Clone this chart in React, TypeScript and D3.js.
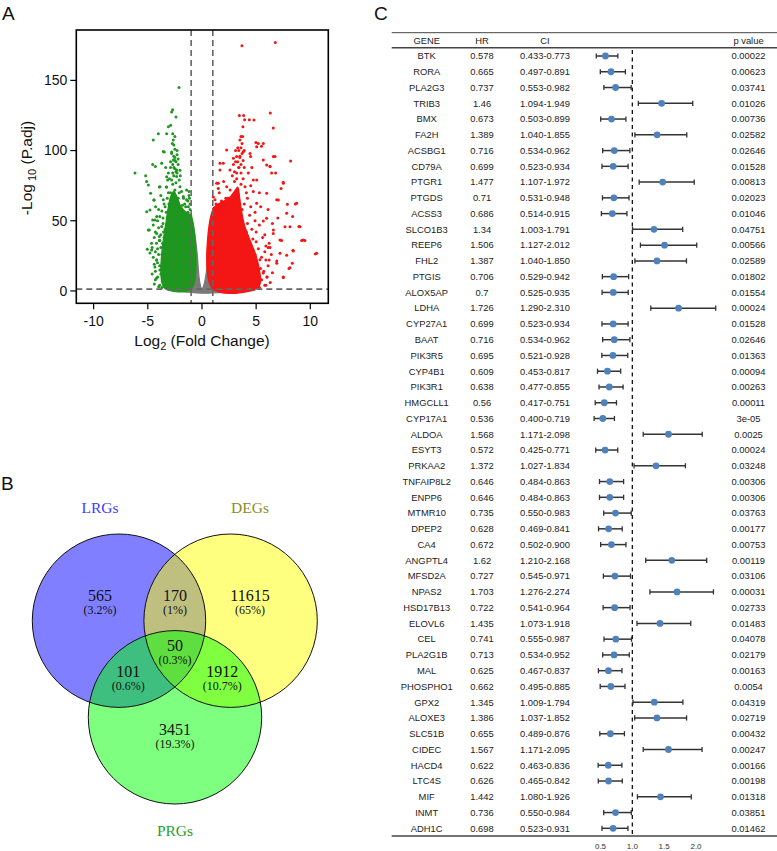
import React from 'react';
import * as d3 from 'd3';

// ---------------- Panel A: volcano plot data ----------------
const volcanoXTicks = [-10, -5, 0, 5, 10];
const volcanoYTicks = [0, 50, 100, 150];
const fcCutoff = 1;
const pCutoff = 1.3;

// dense gray (not significant) envelope [log2FC, -log10 padj]
const grayEnvelope: [number, number][] = [
  [-2.7, 0.3], [-2.0, 1.3], [-1.0, 1.6], [-1.0, 52], [-0.9, 50], [-0.7, 43], [-0.45, 27],
  [-0.2, 6], [0, 1.5], [0.2, 5], [0.45, 16], [0.75, 32], [0.9, 42], [1.0, 48], [1.0, 1.5],
  [2.5, 1.3], [4.4, 1.1], [4.9, 0.3], [3.0, -0.6], [0, -1.6], [-1.6, -0.6],
];
// dense green (down-regulated) core
const greenCore: [number, number][] = [
  [-1.0, 1.5], [-3.4, 1.5], [-3.7, 6], [-3.8, 15], [-3.7, 28], [-3.5, 40], [-3.3, 50],
  [-3.1, 60], [-2.9, 67], [-2.6, 71], [-2.3, 67], [-2.0, 61], [-1.6, 57], [-1.2, 55], [-1.0, 54],
];
// dense red (up-regulated) core
const redCore: [number, number][] = [
  [1.0, 1.5], [5.0, 1.5], [5.4, 6], [5.3, 15], [5.0, 25], [4.5, 35], [4.0, 45], [3.7, 55],
  [3.5, 65], [3.3, 74], [3.0, 71], [2.6, 67], [2.0, 64], [1.5, 62], [1.0, 58],
];
const greenPoints: [number, number][] = [
  [-2.12, 145], [-2.71, 129], [-2.8, 127.5], [-2.89, 118], [-3.1, 117], [-3.26, 112],
  [-4.5, 107.6], [-2.65, 107.6], [-3.48, 99], [-2.8, 99], [-2.74, 105], [-4.55, 90],
  [-3.72, 91], [-6.18, 84], [-5.2, 82], [-4.3, 88.6], [-4.95, 75.5], [-3.94, 74],
  [-5.1, 56.5], [-4.86, 43.5], [-4.18, 41], [-4.65, 34], [-4.18, 22], [-3.88, 15],
  [-4.09, 10], [-3.4, 8], [-4.43, 65], [-4.74, 69.6], [-3.57, 65], [-3.17, 79],
  [-2.4, 124], [-2.49, 93], [-4.18, 53], [-4.55, 50.6], [-3.72, 46], [-4.8, 27],
  [-3.63, 34], [-3.26, 74], [-2.34, 81.5], [-2.03, 86], [-1.88, 70.8], [-1.42, 65],
  [-1.2, 70.8], [-4.28, 60], [-3.94, 36], [-4.34, 17], [-5.05, 29.7], [-2.95, 60],
  [-1.66, 55], [-5.11, 77.9], [-4.03, 112], [-3.57, 99.3], [-4.8, 57.7], [-4.96, 43.5],
  [-4.65, 29.2], [-4.19, 22], [-3.72, 12.5], [-3.88, 74.3], [-3.26, 81.4], [-2.34, 86.2],
  [-1.72, 67.2], [-1.42, 72], [-1.26, 60], [-2.03, 74.3], [-2.65, 93.3], [-4.43, 64.7],
  [-4.34, 50.5], [-3.94, 38.7], [-2.5, 95], [-2.3, 100], [-2.6, 88], [-2.2, 90],
  [-2.4, 85], [-2.0, 82], [-2.7, 84], [-3.0, 80], [-2.9, 92], [-2.6, 104], [-2.5, 110],
  [-2.7, 112], [-3.4, 60], [-3.6, 52], [-4.1, 30], [-4.3, 8], [-3.9, 4], [-4.4, 38],
  [-1.3, 56], [-1.6, 62], [-2.2, 66], [-1.1, 62], [-3.1, 70], [-3.35, 88], [-4.0, 58],
  [-4.4, 5], [-4.2, 9], [-4.0, 3], [-3.8, 12], [-3.6, 7], [-3.5, 14], [-4.6, 12], [-3.9, 18],
  [-4.3, 14], [-3.7, 2.5], [-4.1, 20], [-3.45, 3], [-4.5, 24], [-4.3, 28], [-4.0, 26],
  [-3.8, 31], [-3.6, 22], [-3.5, 27], [-3.4, 33], [-4.2, 34], [-4.6, 31], [-3.9, 36],
  [-3.7, 17], [-4.4, 19], [-3.3, 20], [-4.3, 42], [-4.0, 45], [-3.8, 40], [-3.6, 48],
  [-3.4, 44], [-3.2, 52], [-3.9, 53], [-4.5, 47], [-3.5, 38], [-3.3, 56], [-4.1, 50],
  [-3.7, 57], [-3.0, 58], [-2.8, 62], [-3.2, 66], [-2.6, 64], [-2.4, 60], [-2.2, 63],
  [-2.0, 58], [-1.8, 61], [-1.5, 60], [-1.3, 64], [-1.1, 58], [-3.5, 62], [-3.8, 68],
  [-2.9, 70], [-2.5, 72], [-2.1, 70], [-1.7, 66], [-1.2, 68], [-3.3, 74], [-2.7, 76],
  [-2.4, 77], [-2.8, 79], [-2.6, 82], [-2.3, 84], [-2.5, 87], [-2.7, 90], [-2.4, 92],
  [-2.6, 96], [-2.3, 97], [-2.1, 79], [-3.1, 84], [-2.9, 88], [-2.2, 94], [-2.5, 101],
  [-2.8, 98], [-1.05, 54], [-1.15, 66], [-1.9, 56], [-3.05, 62], [-3.7, 26], [-3.55, 42],
];
const redPoints: [number, number][] = [
  [6.77, 177], [3.69, 174.6], [6.31, 126.8], [6.58, 116], [3.45, 125], [3.85, 125],
  [3.94, 122], [4.37, 122], [4.8, 121.8], [3.78, 117], [3.75, 110], [8.18, 92.6],
  [6.74, 95.7], [5.66, 105], [4.98, 105.7], [4.49, 95.7], [5.97, 89.8], [6.43, 84],
  [6.8, 84], [7.5, 77.4], [7.3, 73], [7.88, 61.8], [8.62, 62], [8.37, 53], [8.95, 46],
  [9.2, 36], [9.5, 36], [8.4, 29], [10.46, 26.4], [7.82, 25.4], [8.34, 19.7], [8.03, 16],
  [7.5, 10], [7.2, 26.8], [6.58, 41], [5.97, 51.8], [5.42, 60], [4.74, 70.8], [5.05, 79],
  [4.28, 84], [1.66, 91], [2.28, 100.5], [2.9, 94.5], [1.51, 76.7], [1.05, 67], [1.35, 60],
  [5.2, 105], [5.5, 103], [6.28, 88.6], [7.05, 64.8], [7.66, 45.8], [7.35, 36], [6.9, 19.7],
  [3.5, 107.5], [3.82, 99.2], [3.2, 95.7], [2.58, 86.2], [1.97, 91], [1.66, 86.2],
  [1.35, 76.7], [1.2, 64.9], [2.28, 74.3], [4.43, 98], [5.05, 102.8], [5.66, 93.3],
  [6.28, 88.6], [6.59, 95.7], [7.51, 76.7], [6.9, 64.9], [7.82, 55.4], [8.74, 62.5],
  [8.12, 45.8], [9.05, 45.8], [9.36, 36.3], [10.59, 26.8], [8.43, 28.5], [7.51, 9.5],
  [8.12, 16.6], [6.9, 21.4], [6.28, 30.9], [5.66, 49.9], [5.05, 62.5], [4.74, 79.1],
  [3.97, 74.3], [5.97, 69.6], [6.59, 43.5], [7.2, 36.3], [5.66, 12.8], [5.35, 22.3],
  [6.12, 30.9], [3.3, 102], [3.5, 95], [3.1, 92], [3.6, 90], [3.4, 88], [3.0, 85],
  [3.8, 93], [3.2, 80], [2.8, 82], [3.7, 105], [3.9, 100], [3.6, 110], [4.5, 60],
  [4.9, 50], [5.8, 40], [6.2, 22], [6.0, 10], [5.9, 4], [4.2, 66], [2.2, 66], [1.6, 70],
  [4.6, 88], [5.3, 70], [6.1, 58], [6.5, 48], [7.0, 52], [5.9, 32],
  [4.9, 3], [5.2, 5], [5.5, 8], [5.1, 12], [5.8, 4], [5.4, 16], [6.0, 10], [5.7, 14],
  [6.3, 6], [4.95, 18], [6.5, 13], [5.3, 2.5], [6.1, 18], [4.6, 22], [4.9, 26], [5.2, 30],
  [5.5, 24], [5.8, 28], [4.4, 33], [4.7, 37], [5.0, 35], [5.6, 38], [6.2, 34], [6.4, 26],
  [4.2, 39], [5.9, 22], [3.9, 36], [1.2, 52], [1.4, 57], [1.8, 55], [2.2, 58], [2.6, 57],
  [3.0, 54], [3.4, 50], [3.8, 46], [4.2, 48], [4.6, 44], [5.0, 42], [5.3, 47], [3.7, 58],
  [4.4, 54], [2.9, 60], [4.9, 56], [1.1, 59], [1.6, 47], [1.3, 62], [1.8, 64], [2.4, 66],
  [2.8, 63], [3.1, 68], [3.4, 65], [3.3, 72], [3.6, 76], [3.9, 62], [4.1, 70], [2.6, 72],
  [2.0, 78], [3.0, 78], [4.5, 75], [3.5, 62], [1.5, 73], [3.2, 84], [3.4, 88], [3.6, 84],
  [3.3, 92], [3.5, 96], [3.7, 98], [3.4, 100], [3.1, 100], [3.6, 102], [3.9, 88], [2.9, 90],
  [3.8, 80], [1.05, 55], [2.3, 61], [4.1, 42], [4.7, 29], [5.05, 20], [3.15, 58], [2.0, 60],
];

// ---------------- Panel B: Venn data ----------------
const vennSets = ['LRGs', 'DEGs', 'PRGs'];
const vennSetColors = ['#0000ff', '#ffff00', '#00ff00'];
const vennLabelColors = ['#3b3bff', '#8c8c28', '#2a9d2a'];
const vennCounts = [565, 170, 11615, 101, 50, 1912, 3451];
const vennPercents = ['3.2%', '1%', '65%', '0.6%', '0.3%', '10.7%', '19.3%'];

// ---------------- Panel C: forest table data ----------------
const genes = ['BTK', 'RORA', 'PLA2G3', 'TRIB3', 'BMX', 'FA2H', 'ACSBG1', 'CD79A', 'PTGR1', 'PTGDS',
  'ACSS3', 'SLCO1B3', 'REEP6', 'FHL2', 'PTGIS', 'ALOX5AP', 'LDHA', 'CYP27A1', 'BAAT', 'PIK3R5',
  'CYP4B1', 'PIK3R1', 'HMGCLL1', 'CYP17A1', 'ALDOA', 'ESYT3', 'PRKAA2', 'TNFAIP8L2', 'ENPP6',
  'MTMR10', 'DPEP2', 'CA4', 'ANGPTL4', 'MFSD2A', 'NPAS2', 'HSD17B13', 'ELOVL6', 'CEL', 'PLA2G1B',
  'MAL', 'PHOSPHO1', 'GPX2', 'ALOXE3', 'SLC51B', 'CIDEC', 'HACD4', 'LTC4S', 'MIF', 'INMT', 'ADH1C'];
const hr = [0.578, 0.665, 0.737, 1.46, 0.673, 1.389, 0.716, 0.699, 1.477, 0.71,
  0.686, 1.34, 1.506, 1.387, 0.706, 0.7, 1.726, 0.699, 0.716, 0.695,
  0.609, 0.638, 0.56, 0.536, 1.568, 0.572, 1.372, 0.646, 0.646,
  0.735, 0.628, 0.672, 1.62, 0.727, 1.703, 0.722, 1.435, 0.741, 0.713,
  0.625, 0.662, 1.345, 1.386, 0.655, 1.567, 0.622, 0.626, 1.442, 0.736, 0.698];
const ciLow = [0.433, 0.497, 0.553, 1.094, 0.503, 1.040, 0.534, 0.523, 1.107, 0.531,
  0.514, 1.003, 1.127, 1.040, 0.529, 0.525, 1.290, 0.523, 0.534, 0.521,
  0.453, 0.477, 0.417, 0.400, 1.171, 0.425, 1.027, 0.484, 0.484,
  0.550, 0.469, 0.502, 1.210, 0.545, 1.276, 0.541, 1.073, 0.555, 0.534,
  0.467, 0.495, 1.009, 1.037, 0.489, 1.171, 0.463, 0.465, 1.080, 0.550, 0.523];
const ciHigh = [0.773, 0.891, 0.982, 1.949, 0.899, 1.855, 0.962, 0.934, 1.972, 0.948,
  0.915, 1.791, 2.012, 1.850, 0.942, 0.935, 2.310, 0.934, 0.962, 0.928,
  0.817, 0.855, 0.751, 0.719, 2.098, 0.771, 1.834, 0.863, 0.863,
  0.983, 0.841, 0.900, 2.168, 0.971, 2.274, 0.964, 1.918, 0.987, 0.952,
  0.837, 0.885, 1.794, 1.852, 0.876, 2.095, 0.836, 0.842, 1.926, 0.984, 0.931];
const pValues = ['0.00022', '0.00623', '0.03741', '0.01026', '0.00736', '0.02582', '0.02646', '0.01528',
  '0.00813', '0.02023', '0.01046', '0.04751', '0.00566', '0.02589', '0.01802', '0.01554', '0.00024',
  '0.01528', '0.02646', '0.01363', '0.00094', '0.00263', '0.00011', '3e-05', '0.0025', '0.00024',
  '0.03248', '0.00306', '0.00306', '0.03763', '0.00177', '0.00753', '0.00119', '0.03106', '0.00031',
  '0.02733', '0.01483', '0.04078', '0.02179', '0.00163', '0.0054', '0.04319', '0.02719', '0.00432',
  '0.00247', '0.00166', '0.00198', '0.01318', '0.03851', '0.01462'];
const forestTicks = [0.5, 1.0, 1.5, 2.0];
const tableHeaders = ['GENE', 'HR', 'CI', 'p value'];

const SANS = "'Liberation Sans', Arial, Helvetica, sans-serif";
const SERIF = "'Liberation Serif', 'Times New Roman', serif";

function Volcano() {
  const left = 76.3, right = 328.3, top = 30, bottom = 303.3;
  const x = d3.scaleLinear().domain([-11.6, 11.66]).range([left, right]);
  const y = d3.scaleLinear().domain([-8.8, 185.9]).range([bottom, top]);
  const poly = d3.line<[number, number]>().x(d => x(d[0])).y(d => y(d[1])).curve(d3.curveCatmullRomClosed.alpha(0.5));
  const gray = '#7a7a7a', green = '#1f961f', red = '#f41515';
  return (
    <g fontFamily={SANS}>
      <defs>
        <clipPath id="vclip"><rect x={left} y={top} width={right - left} height={bottom - top} /></clipPath>
      </defs>
      <g clipPath="url(#vclip)">
        <path d={poly(grayEnvelope) || ''} fill={gray} stroke={gray} strokeWidth={1.2} strokeLinejoin="round" />
        <path d={poly(greenCore) || ''} fill={green} stroke={green} strokeWidth={1.2} strokeLinejoin="round" />
        <path d={poly(redCore) || ''} fill={red} stroke={red} strokeWidth={1.2} strokeLinejoin="round" />
        {greenPoints.map((d, i) => <circle key={'g' + i} cx={x(d[0])} cy={y(d[1])} r={1.5} fill={green} />)}
        {redPoints.map((d, i) => <circle key={'r' + i} cx={x(d[0])} cy={y(d[1])} r={1.5} fill={red} />)}
        <line x1={x(-fcCutoff)} x2={x(-fcCutoff)} y1={top} y2={bottom} stroke="#666" strokeWidth={1.6} strokeDasharray="6,4" />
        <line x1={x(fcCutoff)} x2={x(fcCutoff)} y1={top} y2={bottom} stroke="#666" strokeWidth={1.6} strokeDasharray="6,4" />
        <line x1={left} x2={right} y1={y(pCutoff)} y2={y(pCutoff)} stroke="#666" strokeWidth={1.6} strokeDasharray="6,4" />
      </g>
      <rect x={left} y={top} width={right - left} height={bottom - top} fill="none" stroke="#000" strokeWidth={1.6} />
      {volcanoYTicks.map(t => (
        <g key={'yt' + t}>
          <line x1={left - 6} x2={left} y1={y(t)} y2={y(t)} stroke="#000" strokeWidth={1.2} />
          <text x={left - 9} y={y(t)} dy="0.35em" textAnchor="end" fontSize={14} fill="#111">{t}</text>
        </g>
      ))}
      {volcanoXTicks.map(t => (
        <g key={'xt' + t}>
          <line x1={x(t)} x2={x(t)} y1={bottom} y2={bottom + 6} stroke="#000" strokeWidth={1.2} />
          <text x={x(t)} y={bottom + 23} textAnchor="middle" fontSize={14} fill="#111">{t}</text>
        </g>
      ))}
      <text x={202} y={346} textAnchor="middle" fontSize={15.5} fill="#111">
        Log<tspan fontSize={11} dy={4}>2</tspan><tspan dy={-4}> (Fold Change)</tspan>
      </text>
      <text transform="translate(32,168) rotate(-90)" textAnchor="middle" fontSize={15.5} fill="#111">
        -Log<tspan fontSize={11} dy={4}> 10</tspan><tspan dy={-4}> (P.adj)</tspan>
      </text>
      <text x={2} y={20} fontSize={19} fill="#111">A</text>
    </g>
  );
}

function Venn() {
  const r = 86.7;
  const centers: [number, number][] = [[119, 620.7], [230.6, 620.7], [175, 717.3]];
  const labelPos: [number, number][] = [[100, 513], [250, 513], [175, 836]];
  const countPos: [number, number][] = [[100, 601], [175, 601], [250, 601], [128.3, 677], [175, 651], [222.3, 677], [175, 735]];
  return (
    <g>
      {centers.map((c, i) => (
        <circle key={'f' + i} cx={c[0]} cy={c[1]} r={r} fill={vennSetColors[i]} fillOpacity={0.5} />
      ))}
      {centers.map((c, i) => (
        <circle key={'s' + i} cx={c[0]} cy={c[1]} r={r} fill="none" stroke="#111" strokeWidth={1} />
      ))}
      {vennSets.map((s, i) => (
        <text key={s} x={labelPos[i][0]} y={labelPos[i][1]} textAnchor="middle" fontFamily={SERIF} fontSize={15.5} fill={vennLabelColors[i]}>{s}</text>
      ))}
      {vennCounts.map((c, i) => (
        <g key={'c' + i} fontFamily={SERIF} textAnchor="middle" fill="#111">
          <text x={countPos[i][0]} y={countPos[i][1]} fontSize={16}>{c}</text>
          <text x={countPos[i][0]} y={countPos[i][1] + 13} fontSize={12}>({vennPercents[i]})</text>
        </g>
      ))}
      <text x={1} y={490} fontFamily={SANS} fontSize={19} fill="#111">B</text>
    </g>
  );
}

function Forest() {
  const tableLeft = 391.7, tableRight = 777;
  const x = d3.scaleLinear().domain([0.5, 2.0]).range([600.5, 696]);
  const y = d3.scalePoint<string>().domain(genes).range([56, 828.3]);
  const colX = [426.7, 482, 545, 748.5];
  const fs = 9.4;
  const ink = '#222';
  return (
    <g fontFamily={SANS} fill={ink}>
      <text x={374} y={20} fontSize={19} fill="#111">C</text>
      <line x1={tableLeft} x2={tableRight} y1={32.7} y2={32.7} stroke="#444" strokeWidth={1} />
      <line x1={tableLeft} x2={tableRight} y1={47.7} y2={47.7} stroke="#444" strokeWidth={1.6} />
      <line x1={tableLeft} x2={tableRight} y1={836} y2={836} stroke="#444" strokeWidth={1.6} />
      {tableHeaders.map((h, i) => (
        <text key={h} x={colX[i]} y={40.7} dy="0.35em" textAnchor="middle" fontSize={fs}>{h}</text>
      ))}
      <line x1={x(1)} x2={x(1)} y1={50} y2={836} stroke="#111" strokeWidth={1.3} strokeDasharray="4,3.5" />
      {genes.map((g, i) => {
        const yy = y(g) as number;
        return (
          <g key={g + i}>
            <text x={colX[0]} y={yy} dy="0.35em" textAnchor="middle" fontSize={fs}>{g}</text>
            <text x={colX[1]} y={yy} dy="0.35em" textAnchor="middle" fontSize={fs}>{String(hr[i])}</text>
            <text x={colX[2]} y={yy} dy="0.35em" textAnchor="middle" fontSize={fs}>{ciLow[i].toFixed(3) + '-' + ciHigh[i].toFixed(3)}</text>
            <text x={colX[3]} y={yy} dy="0.35em" textAnchor="middle" fontSize={fs}>{pValues[i]}</text>
            <line x1={x(ciLow[i])} x2={x(ciHigh[i])} y1={yy} y2={yy} stroke="#333" strokeWidth={1.5} />
            <line x1={x(ciLow[i])} x2={x(ciLow[i])} y1={yy - 2.6} y2={yy + 2.6} stroke="#333" strokeWidth={1.3} />
            <line x1={x(ciHigh[i])} x2={x(ciHigh[i])} y1={yy - 2.6} y2={yy + 2.6} stroke="#333" strokeWidth={1.3} />
            <circle cx={x(hr[i])} cy={yy} r={3.4} fill="#4f81bd" />
          </g>
        );
      })}
      {forestTicks.map(t => (
        <text key={'ft' + t} x={x(t)} y={849} textAnchor="middle" fontSize={8} fill="#333">{t.toFixed(1)}</text>
      ))}
    </g>
  );
}

export default function App() {
  return (
    <svg width={777} height={851} viewBox="0 0 777 851"
      style={{ position: 'absolute', left: 0, top: 0, background: '#fff', display: 'block' }}>
      <rect x={0} y={0} width={777} height={851} fill="#fff" />
      <Volcano />
      <Venn />
      <Forest />
    </svg>
  );
}
